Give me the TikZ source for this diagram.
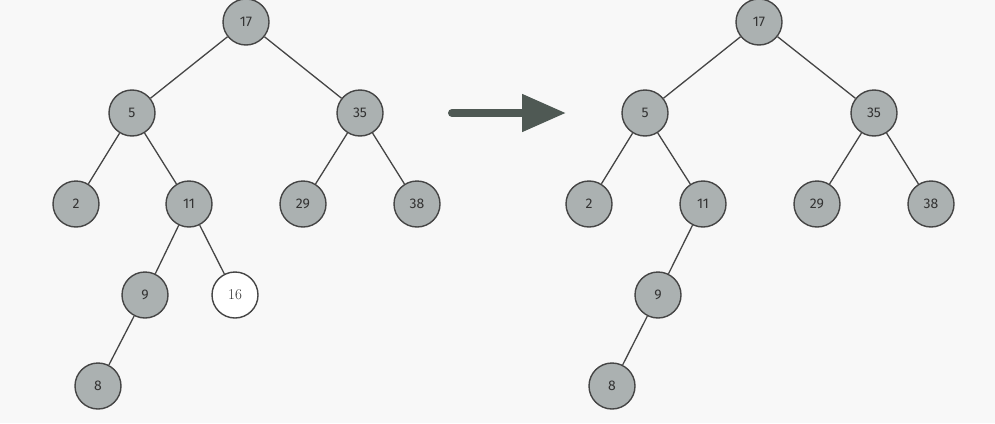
\documentclass[tikz,border=0pt]{standalone}
\usepackage{fontspec}
\setsansfont{Fira Sans}
\usetikzlibrary{arrows.meta}
\definecolor{bgcol}{HTML}{F8F8F8}
\definecolor{nodefill}{HTML}{ABB1B1}
\definecolor{edgecol}{HTML}{454545}
\definecolor{arrowcol}{HTML}{4F5954}

\begin{document}
\begin{tikzpicture}[x=1pt, y=-1pt,
  key/.style={circle, draw=edgecol, line width=1.4pt, fill=nodefill, minimum size=46pt, inner sep=0pt, font=\sffamily\fontsize{14}{16}\selectfont, text=black!80},
  newkey/.style={key, fill=white, font=\rmfamily\fontsize{15}{17}\selectfont},
  edge/.style={draw=edgecol, line width=1.3pt},
  bigarrow/.style={-{Triangle[length=44pt, width=36pt]}, line width=8pt, line cap=round, draw=arrowcol, fill=arrowcol}
]
  \fill[bgcol] (0,0) rectangle (995,423);
  \useasboundingbox (0,0) rectangle (995,423);

  % before insertion
  \node[key] (l17) at (246,22) {17};
  \node[key] (l5) at (132,113) {5};
  \node[key] (l35) at (360,113) {35};
  \node[key] (l2) at (76,204) {2};
  \node[key] (l11) at (189,204) {11};
  \node[key] (l29) at (303,204) {29};
  \node[key] (l38) at (417,204) {38};
  \node[key] (l9) at (145,295) {9};
  \node[newkey] (l16) at (235,295) {16};
  \node[key] (l8) at (98,386) {8};

  \draw[edge] (l17) -- (l5);
  \draw[edge] (l17) -- (l35);
  \draw[edge] (l5) -- (l2);
  \draw[edge] (l5) -- (l11);
  \draw[edge] (l35) -- (l29);
  \draw[edge] (l35) -- (l38);
  \draw[edge] (l11) -- (l9);
  \draw[edge] (l11) -- (l16);
  \draw[edge] (l9) -- (l8);

  % arrow
  \coordinate (from) at (452,113);
  \coordinate (to) at (566,113);
  \draw[bigarrow] (from) -- (to);

  % after
  \node[key] (r17) at (759,22) {17};
  \node[key] (r5) at (645,113) {5};
  \node[key] (r35) at (874,113) {35};
  \node[key] (r2) at (589,204) {2};
  \node[key] (r11) at (703,204) {11};
  \node[key] (r29) at (817,204) {29};
  \node[key] (r38) at (931,204) {38};
  \node[key] (r9) at (658,295) {9};
  \node[key] (r8) at (612,386) {8};

  \draw[edge] (r17) -- (r5);
  \draw[edge] (r17) -- (r35);
  \draw[edge] (r5) -- (r2);
  \draw[edge] (r5) -- (r11);
  \draw[edge] (r35) -- (r29);
  \draw[edge] (r35) -- (r38);
  \draw[edge] (r11) -- (r9);
  \draw[edge] (r9) -- (r8);
\end{tikzpicture}
\end{document}
